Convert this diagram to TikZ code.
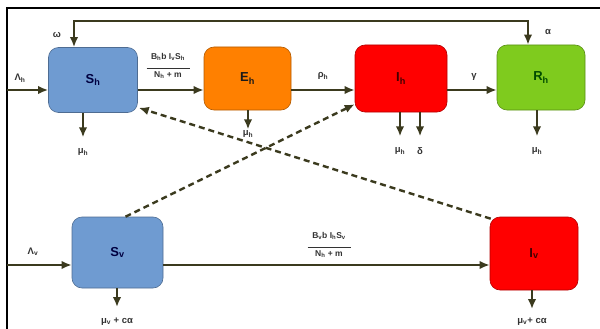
\documentclass[tikz,border=0pt]{standalone}
\usepackage{fontspec}
\setmainfont{Liberation Sans}
\usetikzlibrary{arrows.meta}
\definecolor{arr}{HTML}{3B3A1E}
\definecolor{bluebox}{HTML}{6F9BD1}
\definecolor{orangebox}{HTML}{FF8000}
\definecolor{redbox}{HTML}{FF0000}
\definecolor{greenbox}{HTML}{7FCB1E}
\newcommand{\sbs}[1]{\textsubscript{#1}}
\begin{document}
\begin{tikzpicture}[x=1pt,y=-1pt,
  comp/.style={rounded corners=10pt, draw=#1!70!black, line width=0.6pt, fill=#1,
    minimum width=89pt, minimum height=65pt, font=\fontsize{13}{15}\selectfont\bfseries},
  flow/.style={draw=arr, line width=2pt, -{Latex[length=10pt,width=8.5pt]}},
  infl/.style={draw=arr, line width=2.4pt, dash pattern=on 6pt off 4pt, -{Latex[length=10pt,width=8.5pt]}},
  lab/.style={font=\fontsize{9.5}{11}\selectfont\bfseries, text=black!80, inner sep=1pt},
  frac/.style={font=\fontsize{8.5}{10}\selectfont\bfseries, text=black!80, inner sep=1pt, align=center}
]
\useasboundingbox (0,0) rectangle (600,329);
% frame
\draw[line width=1.6pt, black] (7,329) -- (7,8) -- (600,8);

% compartments
\node[comp=bluebox, text=blue!25!black] (Sh) at (93,80) {S\sbs{h}};
\node[comp=orangebox, minimum width=87pt, minimum height=63pt, text=black!90] (Eh) at (247.5,78.5) {E\sbs{h}};
\node[comp=redbox, minimum width=92pt, minimum height=67pt, text=red!25!black] (Ih) at (401,78.5) {I\sbs{h}};
\node[comp=greenbox, minimum width=88pt, text=green!30!black] (Rh) at (541,77.5) {R\sbs{h}};
\node[comp=bluebox, minimum width=91pt, minimum height=71pt, text=blue!25!black] (Sv) at (117.5,252.5) {S\sbs{v}};
\node[comp=redbox, minimum width=88pt, minimum height=73pt, text=red!25!black] (Iv) at (534,253.5) {I\sbs{v}};

% free ends
\coordinate (inh) at (7,90);
\coordinate (inv) at (7,265);
\coordinate (tl) at (74,21);
\coordinate (tr) at (528,21);

% labels
\node[lab] (Lh) at (20,78) {Λ\sbs{h}};
\node[lab] (Lv) at (33,252) {Λ\sbs{v}};
\node[lab] (om) at (57,35) {ω};
\node[lab] (al) at (548,32) {α};
\node[lab] (rho) at (323,76) {ρ\sbs{h}};
\node[lab] (gam) at (474,77) {γ};
\node[frac] (f1) at (168,66) {B\sbs{h}b I\sbs{v}S\sbs{h}\\[-1pt]\rule{43pt}{0.7pt}\\[-1pt]N\sbs{h} + m};
\node[frac] (f2) at (329,245) {B\sbs{v}b I\sbs{h}S\sbs{v}\\[-1pt]\rule{43pt}{0.7pt}\\[-1pt]N\sbs{h} + m};

\node[lab] (mSh) at (83,152) {μ\sbs{h}};
\node[lab] (mEh) at (248,134) {μ\sbs{h}};
\node[lab] (mIh) at (400,151) {μ\sbs{h}};
\node[lab] (dIh) at (420,151) {δ};
\node[lab] (mRh) at (537,151) {μ\sbs{h}};
\node[lab] (mSv) at (117,322) {μ\sbs{v} + cα};
\node[lab] (mIv) at (532,322) {μ\sbs{v}+ cα};

% flows
\draw[flow] (inh) -- (inh -| Sh.west);
\draw[flow] ([yshift=-10pt]Sh.east) -- ([yshift=-10pt]Sh.east -| Eh.west);
\draw[flow] ([yshift=-11.5pt]Eh.east) -- ([yshift=-11.5pt]Eh.east -| Ih.west);
\draw[flow] ([yshift=-11.5pt]Ih.east) -- ([yshift=-11.5pt]Ih.east -| Rh.west);
\draw[flow] (inv) -- (inv -| Sv.west);
\draw[flow] ([yshift=-12.5pt]Sv.east) -- ([yshift=-12.5pt]Sv.east -| Iv.west);
\draw[flow, {Latex[length=10pt,width=8.5pt]}-{Latex[length=10pt,width=8.5pt]}]
  (Sh.north -| tl) -- (tl) -- (tr) -- (Rh.north -| tr);

% outflows
\draw[flow, shorten >=10pt] (Sh.south -| mSh) -- (mSh.north);
\draw[flow, shorten >=0pt] (Eh.south -| mEh) -- (mEh.north);
\draw[flow, shorten >=10pt] (Ih.south -| mIh) -- (mIh.north);
\draw[flow, shorten >=10pt] (Ih.south -| dIh) -- (dIh.north);
\draw[flow, shorten >=10pt] (Rh.south -| mRh) -- (mRh.north);
\draw[flow, shorten >=10pt] (Sv.south -| mSv) -- (mSv.north);
\draw[flow, shorten >=8pt] (Iv.south -| mIv) -- (mIv.north);

% infections (dashed)
\draw[infl] ([shift={(1pt,-2pt)}]Iv.north west) -- ([shift={(1pt,5pt)}]Sh.south east);
\draw[infl] ([xshift=8pt]Sv.north) -- ([yshift=8pt]Ih.south west);
\end{tikzpicture}
\end{document}
